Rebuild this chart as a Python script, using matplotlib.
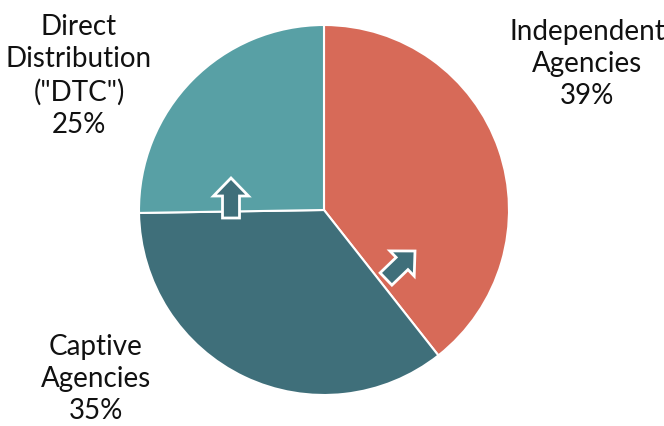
import matplotlib
matplotlib.use("Agg")
import matplotlib.pyplot as plt
from matplotlib.patches import FancyArrow

# Distribution channel shares (%)
channels = ["Independent\nAgencies", "Captive\nAgencies", "Direct\nDistribution\n(\"DTC\")"]
shares = [39, 35, 25]
colors = ["#D76A58", "#3F6F7A", "#58A0A5"]

W, H = 664, 426
fig = plt.figure(figsize=(W / 100, H / 100), dpi=100)
ax = fig.add_axes([0, 0, 1, 1])

# pie geometry in pixels
cx, cy, r = 324, 210, 185

ax.pie(shares, colors=colors, startangle=90, counterclock=False, radius=1,
       wedgeprops=dict(edgecolor="white", linewidth=1.5))
ax.set_xlim(-cx / r, (W - cx) / r)
ax.set_ylim(-(H - cy) / r, cy / r)
ax.set_aspect("auto")
ax.axis("off")


def px(x, y):
    return (x - cx) / r, (cy - y) / r


# labels
label_pos = [(587, 64), (96, 379), (79, 76)]
for name, val, (lx, ly) in zip(channels, shares, label_pos):
    x, y = px(lx, ly)
    ax.text(x, y, f"{name}\n{val}%", ha="center", va="center",
            fontsize=20, family="Lato", color="#111111", linespacing=1.3)

# growth arrows
arrows = [((231, 218), (231, 178)), ((386, 279), (415, 251))]
for (x0, y0), (x1, y1) in arrows:
    a0 = px(x0, y0)
    a1 = px(x1, y1)
    ax.add_patch(FancyArrow(a0[0], a0[1], a1[0] - a0[0], a1[1] - a0[1],
                            width=17 / r, head_width=35 / r, head_length=18 / r,
                            length_includes_head=True, facecolor="#3F6F7A",
                            edgecolor="white", linewidth=2, zorder=5))

fig.savefig("out.png", dpi=100)
